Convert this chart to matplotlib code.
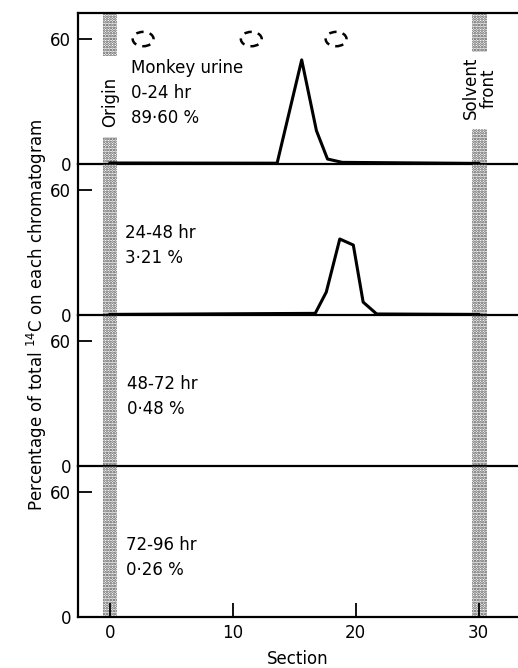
import matplotlib
matplotlib.use("Agg")
import matplotlib.pyplot as plt
from matplotlib.patches import Ellipse

plt.rcParams['font.family'] = ['DejaVu Sans']
plt.rcParams['hatch.linewidth'] = 1.3
plt.rcParams['hatch.color'] = '0.3'

# chromatogram profiles (section vs % of total 14C)
sec_0_24 = [0, 13.6, 15.6, 16.8, 17.7, 18.9, 30]
pct_0_24 = [0.5, 0.4, 50, 16, 2.4, 0.8, 0.3]
sec_24_48 = [0, 16.7, 17.6, 18.7, 19.8, 20.6, 21.7, 30]
pct_24_48 = [0.3, 0.8, 11, 36.5, 33.6, 6.2, 0.5, 0.3]

panel_labels = ["Monkey urine\n0-24 hr\n89·60 %", "24-48 hr\n3·21 %",
                "48-72 hr\n0·48 %", "72-96 hr\n0·26 %"]
label_x = [1.7, 1.2, 1.4, 1.3]
label_top = [50.5, 43.5, 43.5, 39]

# reference spots (dashed ellipses) at the top of the first panel
spot_x = [2.7, 11.5, 18.4]
spot_y = 60

xticks = [0, 10, 20, 30]
yticks = [0, 60]

origin = (-0.6, 0.6)
front = (29.45, 30.65)

fig = plt.figure(figsize=(5.18, 6.68), dpi=100)
axes = fig.subplots(4, 1, sharex=True)
fig.subplots_adjust(left=0.1506, right=1.0, top=0.9805, bottom=0.0763, hspace=0)

ymax = 72.5
for i, ax in enumerate(axes):
    ax.patch.set_visible(False)
    ax.set_xlim(-2.6, 33.2)
    ax.set_ylim(0, ymax)
    ax.set_yticks(yticks)
    ax.set_xticks(xticks)
    ax.tick_params(direction='in', length=10, width=1.3, labelsize=12, pad=5)
    ax.spines['right'].set_visible(False)
    if i > 0:
        ax.spines['top'].set_visible(False)
    for s in ['left', 'bottom', 'top']:
        ax.spines[s].set_linewidth(1.6)
    if i < 3:
        ax.tick_params(axis='x', bottom=False)

    # stippled bands for origin and solvent front
    if i == 0:
        spans = [(origin, 0, 13), (origin, 51.8, ymax), (front, 0, 16.8), (front, 54, ymax)]
    else:
        spans = [(origin, 0, ymax), (front, 0, ymax)]
    for (x0, x1), y0, y1 in spans:
        ax.fill_between([x0, x1], y0, y1, facecolor='none', edgecolor='0.3',
                        hatch='......', linewidth=0, zorder=1)

    ax.text(label_x[i], label_top[i], panel_labels[i], fontsize=12, ha='left', va='top',
            linespacing=1.5)

axes[0].plot(sec_0_24, pct_0_24, color='black', lw=2.2, zorder=3)
axes[1].plot(sec_24_48, pct_24_48, color='black', lw=2.2, zorder=3)

for sx in spot_x:
    axes[0].add_patch(Ellipse((sx, spot_y), 1.7, 6.9, fill=False, edgecolor='black',
                              lw=1.8, linestyle=(0, (3, 2.5))))

axes[0].text(0, 30, "Origin", rotation=90, fontsize=12, ha='center', va='center')
axes[0].text(30.1, 36.5, "Solvent\nfront", rotation=90, fontsize=12, ha='center',
             va='center', multialignment='center', linespacing=1.0)

axes[3].set_xlabel("Section", fontsize=12, labelpad=6)
fig.text(0.072, 0.528, "Percentage of total $^{14}$C on each chromatogram",
         rotation=90, fontsize=12, ha='center', va='center')

fig.savefig("out.png", dpi=100)
